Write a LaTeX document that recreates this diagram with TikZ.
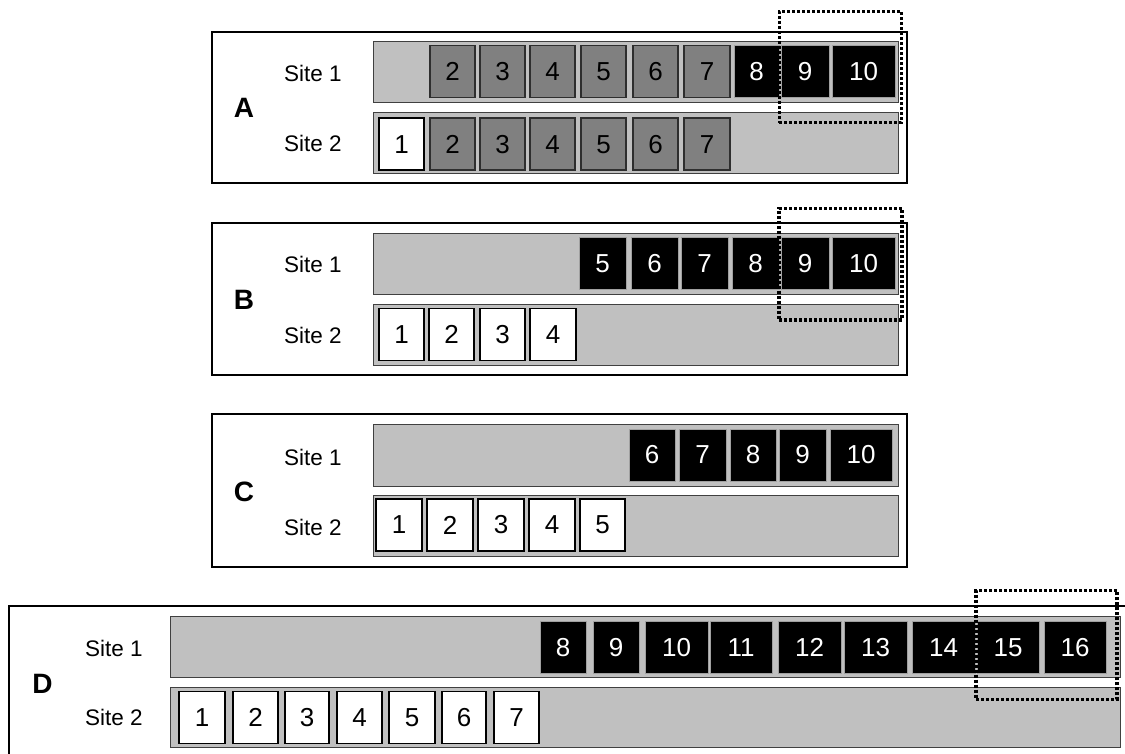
\documentclass[tikz,border=0pt]{standalone}
\usepackage{fontspec}
\setmainfont{Liberation Sans}
\usetikzlibrary{fit}
\definecolor{barfill}{HTML}{C0C0C0}
\definecolor{barline}{HTML}{404040}
\definecolor{oldfill}{HTML}{808080}
\definecolor{oldline}{HTML}{2E2E2E}
\definecolor{newline}{HTML}{A0A0A0}

\begin{document}
\begin{tikzpicture}[x=1pt,y=-1pt,
      panel/.style={draw=black,line width=2pt,inner sep=0pt},
      bar/.style={draw=barline,fill=barfill,line width=0.9pt,inner sep=0pt},
      cell/.style={inner sep=0pt,minimum height=52pt,font=\fontsize{26}{28}\selectfont},
      span/.style args={#1/#2}{minimum width=(#2-#1)*1pt},
      oldc/.style={cell,draw=oldline,fill=oldfill,line width=1.4pt},
      newc/.style={cell,draw=newline,fill=black,text=white,line width=0.6pt},
      localc/.style={cell,draw=black,fill=white,line width=1.6pt},
      win/.style={draw=black,line width=3.4pt,dash pattern=on 3pt off 2pt,inner sep=0pt},
      sitelbl/.style={font=\fontsize{22.5}{25}\selectfont},
      tag/.style={font=\bfseries\fontsize{28}{30}\selectfont}]
    \useasboundingbox (0,0) rectangle (1125,754);
    \clip (0,0) rectangle (1125,754);

    % panel A
    \node[panel,fit={(211.7,31.7) (906.7,183)}] (fa) {};
    \node[tag] (ta) at (244,108) {A};
    \node[sitelbl] (sa1) at (313,73) {Site 1};
    \node[sitelbl] (sa2) at (313,143) {Site 2};
    \node[bar,fit={(373,41.7) (898,102.7)}] (ba1) {};
    \node[bar,fit={(373,112.7) (898,173.3)}] (ba2) {};
    \foreach \l/\r/\t in {430/475/2,480/525/3,530/575/4,581/626/5,633/678/6,684/730/7}{
      \node[oldc,span=\l/\r] (a1-\t) at ({(\l+\r)/2},71.7) {\t};
      \node[oldc,span=\l/\r] (a2-\t) at ({(\l+\r)/2},144.2) {\t};
    }
    \foreach \l/\r/\t in {734/779/8,781/829/9,832/895/10}
      \node[newc,span=\l/\r] (a1-\t) at ({(\l+\r)/2},71.7) {\t};
    \node[localc,span=379/424] (a2-1) at (401.5,144.2) {1};
    \node[win,fit={(779.3,11.7) (901.7,122.7)}] (wa) {};

    % panel B
    \node[panel,fit={(211.7,222.7) (906.7,375)}] (fb) {};
    \node[tag] (tb) at (244,300) {B};
    \node[sitelbl] (sb1) at (313,264) {Site 1};
    \node[sitelbl] (sb2) at (313,335) {Site 2};
    \node[bar,fit={(373,233.3) (898,294.3)}] (bb1) {};
    \node[bar,fit={(373,304.3) (898,365)}] (bb2) {};
    \foreach \l/\r/\t in {579/626/5,631/678/6,681/728/7,732/779/8,781/829/9,832/895/10}
      \node[newc,span=\l/\r] (b1-\t) at ({(\l+\r)/2},263.5) {\t};
    \foreach \l/\r/\t in {379/424/1,429/474/2,480/525/3,530/576/4}
      \node[localc,span=\l/\r] (b2-\t) at ({(\l+\r)/2},334.5) {\t};
    \node[win,fit={(779,208.3) (902,320)}] (wb) {};

    % panel C
    \node[panel,fit={(211.7,414) (906.7,566.7)}] (fc) {};
    \node[tag] (tc) at (244,492) {C};
    \node[sitelbl] (sc1) at (313,457) {Site 1};
    \node[sitelbl] (sc2) at (313,527) {Site 2};
    \node[bar,fit={(373,424.3) (898,486.7)}] (bc1) {};
    \node[bar,fit={(373,495.7) (898,556.7)}] (bc2) {};
    \foreach \l/\r/\t in {629/675/6,679/726/7,730/776/8,779/826/9,830/892/10}
      \node[newc,span=\l/\r] (c1-\t) at ({(\l+\r)/2},455) {\t};
    \foreach \l/\r/\t in {376/422/1,427/473/2,478/524/3,529/575/4,580/625/5}
      \node[localc,span=\l/\r] (c2-\t) at ({(\l+\r)/2},525) {\t};

    % panel D (runs past the page)
    \node[panel,fit={(9,605.7) (1150,780)}] (fd) {};
    \node[tag] (td) at (42.5,684) {D};
    \node[sitelbl] (sd1) at (114,648) {Site 1};
    \node[sitelbl] (sd2) at (114,717) {Site 2};
    \node[bar,fit={(170.7,616.7) (1120,677.3)}] (bd1) {};
    \node[bar,fit={(170.7,687.3) (1120,747)}] (bd2) {};
    \foreach \l/\r/\t in {540/586/8,593/639/9,645/708/10,710/772/11,778/841/12,844/907/13,912/975/14,977/1039/15,1044/1106/16}
      \node[newc,span=\l/\r] (d1-\t) at ({(\l+\r)/2},647.5) {\t};
    \foreach \l/\r/\t in {179/225/1,233/278/2,285/329/3,337/382/4,389/435/5,442/486/6,494/539/7}
      \node[localc,span=\l/\r] (d2-\t) at ({(\l+\r)/2},717.3) {\t};
    \node[win,fit={(976,590.5) (1117,699.3)}] (wd) {};
  \end{tikzpicture}
\end{document}
